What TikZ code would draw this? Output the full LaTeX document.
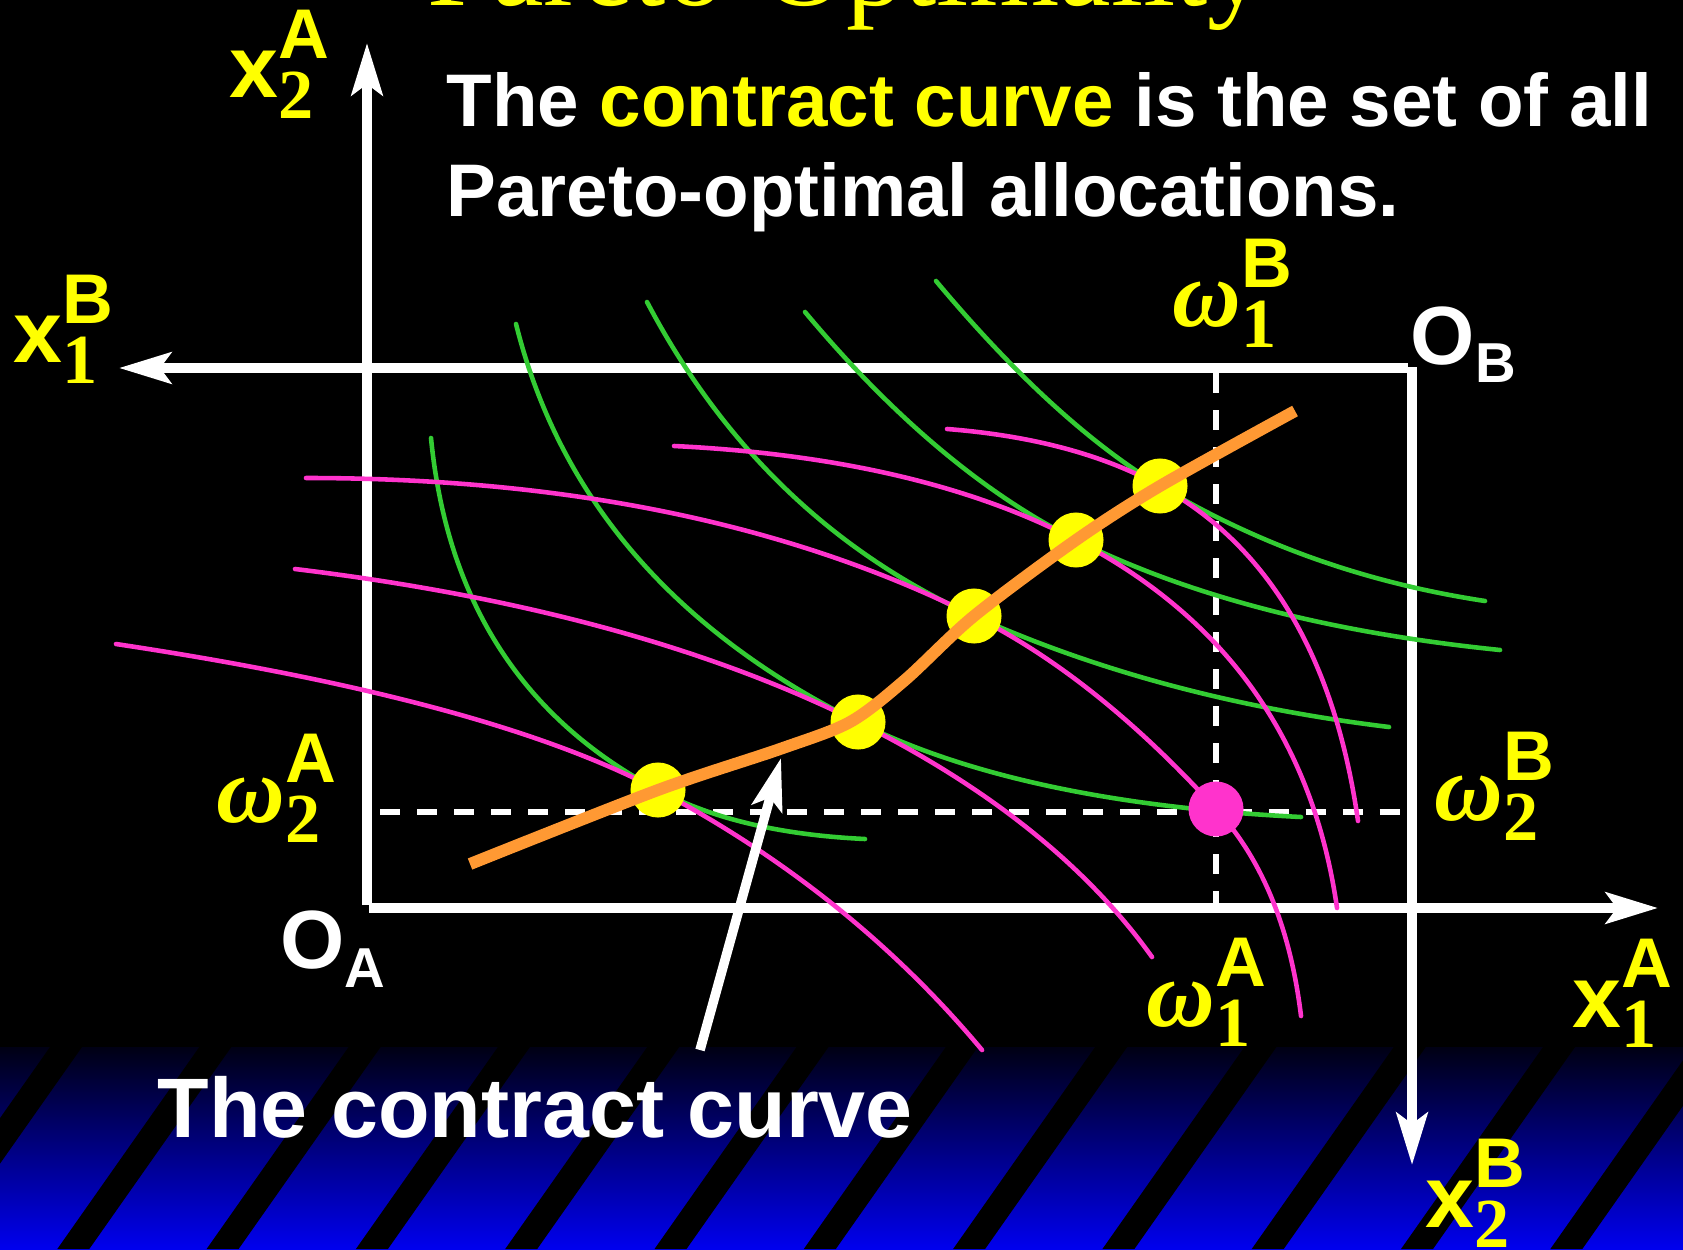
\documentclass[tikz,border=0pt]{standalone}
\usepackage{fontspec}
\setmainfont{Liberation Sans}
\newfontfamily\rmserif{Liberation Serif}
\usepackage{tikz}
\usetikzlibrary{arrows.meta,positioning,calc}
\definecolor{curvegreen}{RGB}{51,204,51}
\definecolor{curvepink}{RGB}{255,51,204}
\definecolor{ccorange}{RGB}{255,153,51}
\definecolor{hiyellow}{RGB}{255,255,0}
\definecolor{banddark}{RGB}{0,0,20}
\definecolor{bandmid}{RGB}{0,0,150}
\definecolor{bandblue}{RGB}{0,0,238}
% axis labels: base glyph, digit below, letter above
\newcommand{\boxscripts}[2]{\rlap{\raisebox{-5.7pt}{\fontsize{20}{20}\selectfont\rmserif\bfseries #1}}\raisebox{11.1pt}{\fontsize{20}{20}\selectfont\bfseries #2}}
\newcommand{\xlab}[2]{{\fontsize{25}{25}\selectfont\bfseries x}\boxscripts{#1}{#2}}
\newcommand{\wlab}[2]{{\fontsize{27}{27}\selectfont\rmserif\bfseries\itshape ω}\boxscripts{#1}{#2}}
\newcommand{\olab}[1]{{\fontsize{23.5}{23.5}\selectfont\bfseries O}\raisebox{-5.4pt}{\fontsize{16}{16}\selectfont\bfseries #1}}

\begin{document}
\begin{tikzpicture}[
    x=0.01cm, y=-0.01cm,
    axisline/.style={white, line width=2.7pt, -{Stealth[length=0.52cm, width=0.31cm, inset=0.11cm]}},
    guide/.style={white, line width=1.85pt, dash pattern=on 0.2cm off 0.17cm},
    indA/.style={curvegreen, line width=1.3pt, line cap=round},
    indB/.style={curvepink, line width=1.3pt, line cap=round},
    qbend/.style={to path={.. controls ($(\tikztostart)!0.6667!(#1)$) and ($(\tikztotarget)!0.6667!(#1)$) .. (\tikztotarget)}},
    optdot/.style={circle, fill=hiyellow, minimum size=0.55cm, inner sep=0pt},
    lbl/.style={anchor=base west, inner sep=0pt, hiyellow},
    say/.style={anchor=base west, inner sep=0pt, white},
]
    \useasboundingbox (0,0) rectangle (1683,1249);
    \fill[black] (0,0) rectangle (1683,1249);
    \clip (0,0) rectangle (1683,1249);
    % striped band at the bottom
    \shade[top color=banddark, middle color=bandmid, bottom color=bandblue] (0,1047) rectangle (1683,1249);
    \foreach \s in {50,199.3,...,1850}
        \fill[black] (\s,1047) -- (\s+32,1047) -- (\s-110,1249) -- (\s-142,1249) -- cycle;

    % endowment guides
    \draw[guide] (1216,373) -- (1216,905);
    \draw[guide] (380,812) -- (1400,812);

    % Edgeworth box
    \coordinate (OA) at (367,908);
    \coordinate (OB) at (1412,368);
    \coordinate (x2Atip) at (367,43);
    \coordinate (x1Atip) at (1658,908);
    \coordinate (x1Btip) at (119,368);
    \coordinate (x2Btip) at (1412,1165);
    \draw[axisline] ([yshift=0.03cm]OA) -- (x2Atip);
    \draw[axisline] ([xshift=0.02cm]OA) -- (x1Atip);
    \draw[axisline] ([xshift=-0.04cm]OB) -- (x1Btip);
    \draw[axisline] ([yshift=0.01cm]OB) -- (x2Btip);

    % tangency points and endowment
    \coordinate (c1) at (658,790);
    \coordinate (c2) at (858,722);
    \coordinate (c3) at (974,616);
    \coordinate (c4) at (1076,540);
    \coordinate (c5) at (1160,486);
    \coordinate (w) at (1216,809);

    % A's indifference curves
    \draw[indA] (431,438) to[qbend={455,683}] (c1) to[qbend={738,833}] (865,839);
    \draw[indA] (516,324) to[qbend={581,584}] (c2) to[qbend={1020,803}] (1301,817);
    \draw[indA] (647,302) to[qbend={762,520}] (c3) to[qbend={1159,699}] (1389,727);
    \draw[indA] (805,312) to[qbend={937,470}] (c4) to[qbend={1245,624}] (1500,650);
    \draw[indA] (936,281) to[qbend={1054,422}] (c5) to[qbend={1307,574}] (1485,601);
    % B's indifference curves
    \draw[indB] (116,644) to[qbend={488,700}] (c1) to[qbend={850,892}] (982,1050);
    \draw[indB] (295,569) to[qbend={633,610}] (c2) to[qbend={1054,820}] (1152,957);
    \draw[indB] (306,478) to[qbend={698,478}] (c3) to[qbend={1096,677}] (w) to[qbend={1285,884}] (1301,1016);
    \draw[indB] (674,446) to[qbend={919,458}] (c4) to[qbend={1301,657}] (1337,908);
    \draw[indB] (947,429) to[qbend={1075,439}] (c5) to[qbend={1323,576}] (1358,821);

    % Pareto-optimal points
    \node[optdot] (p1) at (c1) {};
    \node[optdot] (p2) at (c2) {};
    \node[optdot] (p3) at (c3) {};
    \node[optdot] (p4) at (c4) {};
    \node[optdot] (p5) at (c5) {};
    % contract curve
    \draw[ccorange, line width=3.4pt] plot[smooth] coordinates {(470,864) (658,790) (780,749) (850,722) (905,680) (974,616) (1076,540) (1160,486) (1295,411)};
    \node[circle, fill=curvepink, minimum size=0.55cm, inner sep=0pt] (endow) at (w) {};

    % pointer to the curve
    \coordinate (cctail) at (700,1050);
    \coordinate (cctip) at (781,758);
    \draw[axisline] (cctail) -- (cctip);

    % labels
    \node[lbl] (x2A) at (229,98) {\xlab{2}{A}};
    \node[lbl] (x1B) at (13,363) {\xlab{1}{B}};
    \node[lbl] (w1B) at (1172,327) {\wlab{1}{B}};
    \node[lbl, white] (OBlab) at (1410,364) {\olab{B}};
    \node[lbl] (w2A) at (216,822) {\wlab{2}{A}};
    \node[lbl] (w2B) at (1434,820) {\wlab{2}{B}};
    \node[lbl, white] (OAlab) at (280,968) {\olab{A}};
    \node[lbl] (w1A) at (1146,1026) {\wlab{1}{A}};
    \node[lbl] (x1A) at (1572,1027) {\xlab{1}{A}};
    \node[lbl] (x2B) at (1425,1227) {\xlab{2}{B}};

    % texts
    \node[say, hiyellow, font=\rmserif\fontsize{33}{36}\selectfont] (title) at (427,6) {Pareto-Optimality};
    \node[say, font=\fontsize{21.2}{25}\selectfont\bfseries] (def1) at (446,127) {The \textcolor{hiyellow}{contract curve} is the set of all};
    \node[say, font=\fontsize{21.2}{25}\selectfont\bfseries] (def2) at (446,217) {Pareto-optimal allocations.};
    \node[say, font=\fontsize{24}{28}\selectfont\bfseries] (ccnote) at (157,1137) {The contract curve};
\end{tikzpicture}
\end{document}
